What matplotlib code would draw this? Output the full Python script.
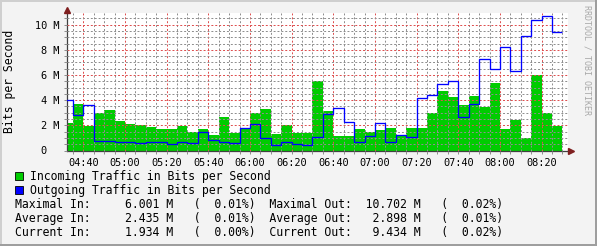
import numpy as np
import matplotlib
matplotlib.use("Agg")
import matplotlib.pyplot as plt
import matplotlib.transforms as mtransforms
from matplotlib.ticker import MultipleLocator, FuncFormatter
from matplotlib.patches import Rectangle

plt.rcParams['font.family'] = ['DejaVu Sans Mono']
plt.rcParams['lines.scale_dashes'] = False

# 5-minute bins starting at 04:30, values in Mbit/s
first_bin = "04:30"
bin_minutes = 5
incoming = [2.16, 3.67, 1.95, 2.98, 3.19, 2.35, 2.08, 2.00, 1.85, 1.69,
            1.69, 1.98, 1.48, 1.69, 1.21, 2.64, 1.40, 1.71, 2.96, 3.30,
            1.29, 2.00, 1.37, 1.37, 5.51, 3.11, 1.13, 1.13, 1.69, 1.45,
            1.61, 1.77, 1.24, 1.77, 1.77, 2.96, 4.72, 4.22, 3.59, 4.30,
            3.43, 5.33, 1.69, 2.40, 1.03, 6.00, 2.96, 1.93]
outgoing = [3.98, 2.85, 3.64, 0.79, 0.79, 0.71, 0.71, 0.63, 0.71, 0.71,
            0.55, 0.71, 0.63, 1.50, 0.82, 0.71, 0.63, 1.82, 2.14, 0.98,
            0.47, 0.71, 0.55, 0.47, 1.11, 2.90, 3.40, 2.30, 0.71, 1.19,
            2.22, 0.71, 1.27, 1.11, 4.20, 4.43, 5.30, 5.49, 2.69, 3.72,
            7.28, 6.49, 8.23, 6.33, 9.10, 10.37, 10.70, 9.43]

# summary values printed under the graph
stat_labels = ["Maximal", "Average", "Current"]
stats_in = [6.001, 2.435, 1.934]
stats_in_pct = [0.01, 0.01, 0.00]
stats_out = [10.702, 2.898, 9.434]
stats_out_pct = [0.02, 0.01, 0.02]

legend_labels = ["Incoming Traffic in Bits per Second",
                 "Outgoing Traffic in Bits per Second"]
GREEN = '#00cc00'
BLUE = '#0000ff'
LEGEND_FS = 8.3
AXIS_FS = 7.4

W, H = 597, 246
fig = plt.figure(figsize=(W / 100, H / 100), dpi=100, facecolor='#f3f3f3')


def fx(px):
    return px / W


def fy(py):
    return 1 - py / H


# 3d-ish frame
fig.add_artist(Rectangle((0, fy(2)), 1, 2 / H, transform=fig.transFigure, color='#cfcfcf', lw=0))
fig.add_artist(Rectangle((0, 0), 2 / W, 1, transform=fig.transFigure, color='#cfcfcf', lw=0))
fig.add_artist(Rectangle((0, 0), 1, 2 / H, transform=fig.transFigure, color='#9e9e9e', lw=0))
fig.add_artist(Rectangle((1 - 2 / W, 0), 2 / W, 1, transform=fig.transFigure, color='#9e9e9e', lw=0))

ax = fig.add_axes([fx(67), 1 - 150.5 / H, fx(501), 137.8 / H])
ax.set_facecolor('white')

h0, m0 = map(int, first_bin.split(':'))
start = h0 * 60 + m0
edges = start + bin_minutes * np.arange(len(incoming) + 1)

ax.bar(edges[:-1], incoming, width=bin_minutes, align='edge', color=GREEN, linewidth=0, zorder=1)
ax.stairs(outgoing, edges, baseline=None, color=BLUE, linewidth=0.95, zorder=3)

ax.set_xlim(start + 2.18, start + 2.18 + 240.5)
ax.set_ylim(0, 10.95)

ax.xaxis.set_major_locator(MultipleLocator(20))
ax.xaxis.set_minor_locator(MultipleLocator(5))
ax.yaxis.set_major_locator(MultipleLocator(2))
ax.yaxis.set_minor_locator(MultipleLocator(0.5))
ax.xaxis.set_major_formatter(FuncFormatter(lambda v, p: f"{int(round(v)) // 60:02d}:{int(round(v)) % 60:02d}"))
ax.yaxis.set_major_formatter(FuncFormatter(lambda v, p: "0  " if v == 0 else f"{v:g} M"))

ax.set_axisbelow(False)
dots = (0, (1.4, 1.4))
ax.grid(which='minor', color='#8f8f8f', linestyle=dots, linewidth=0.72)
ax.grid(which='major', color='#de5050', linestyle=dots, linewidth=0.72)

ax.tick_params(which='both', length=2.2, width=0.72, color='#8f8f8f', labelsize=AXIS_FS, labelcolor='black')
ax.tick_params(axis='y', pad=3.0)
ax.tick_params(axis='x', pad=3.0)

for s in ['top', 'right']:
    ax.spines[s].set_visible(False)
for s in ['left', 'bottom']:
    ax.spines[s].set_color('#404040')
    ax.spines[s].set_linewidth(0.9)

# axis arrows
up = mtransforms.offset_copy(ax.transAxes, fig=fig, x=0, y=2.5, units='dots')
ax.plot([0], [1], marker='^', markersize=4.5, color='#7f1f1f', transform=up, clip_on=False, zorder=5)
right = mtransforms.offset_copy(ax.transAxes, fig=fig, x=3, y=0, units='dots')
ax.plot([1], [0], marker='>', markersize=4.5, color='#7f1f1f', transform=right, clip_on=False, zorder=5)

fig.text(fx(10), fy(81.6), "Bits per Second", rotation=90, ha='center', va='center', fontsize=LEGEND_FS)
fig.text(fx(587), fy(5), "RRDTOOL / TOBI OETIKER", rotation=270, ha='center', va='top',
         fontsize=6.0, color='#a8a8a8')

# legend
for i, (lab, col) in enumerate(zip(legend_labels, [GREEN, BLUE])):
    base = 180 + 14 * i
    fig.add_artist(Rectangle((fx(15), fy(base)), 7.5 / W, 8 / H, transform=fig.transFigure,
                             facecolor=col, edgecolor='black', linewidth=0.6))
    fig.text(fx(30.5), fy(base), lab, ha='left', va='baseline', fontsize=LEGEND_FS)

for i, name in enumerate(stat_labels):
    base = 208 + 14 * i
    left = f"{name + ' In:':<12}{stats_in[i]:>9.3f} M   ({stats_in_pct[i]:>6.2f}%)"
    right_s = f"{name + ' Out:':<12}{stats_out[i]:>8.3f} M   ({stats_out_pct[i]:>6.2f}%)"
    fig.text(fx(15), fy(base), left + "  " + right_s, ha='left', va='baseline', fontsize=LEGEND_FS)

fig.savefig("out.png", dpi=100, facecolor=fig.get_facecolor())
